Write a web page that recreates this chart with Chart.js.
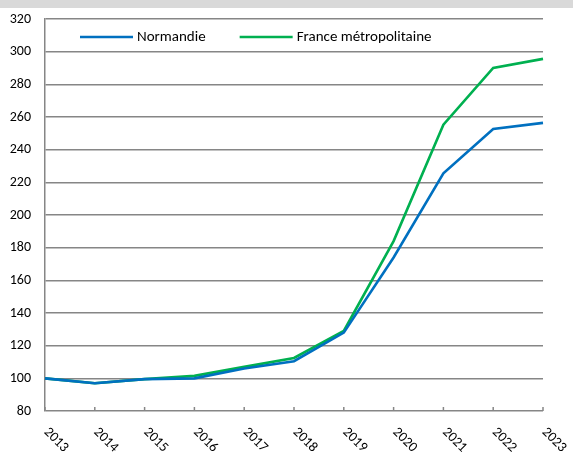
<!DOCTYPE html>
<html>
<head>
<meta charset="utf-8">
<script src="https://cdn.jsdelivr.net/npm/chart.js@4/dist/chart.umd.min.js"></script>
<style>
  html, body { margin: 0; padding: 0; background: #ffffff; }
  #wrap { position: relative; width: 573px; height: 456px; }
  #band { position: absolute; left: 0; top: 0; width: 573px; height: 8px; background: #d9d9d9; }
  canvas { position: absolute; left: 0; top: 0; }
</style>
</head>
<body>
<div id="wrap">
  <div id="band"></div>
  <canvas id="c" width="573" height="456"></canvas>
</div>
<script>
const years = ["2013","2014","2015","2016","2017","2018","2019","2020","2021","2022","2023"];
const normandie = [100, 97, 99.5, 100, 106, 110.5, 128, 174, 225.5, 252.7, 256.4];
const franceMetro = [100, 97, 99.5, 101.5, 107, 112.5, 129, 184, 255.3, 290, 295.6];
const seriesNames = ["Normandie", "France métropolitaine"];
const yTicks = { min: 80, max: 320, step: 20 };

const FONT = "Carlito, Calibri, Lato, 'Open Sans', sans-serif";
const GRID = '#868686';

const customPlugin = {
  id: 'custom',
  afterDraw(chart) {
    const ctx = chart.ctx;
    const xs = chart.scales.x;
    const area = chart.chartArea;
    const bottom = area.bottom;
    ctx.save();
    // inner tick marks on the category axis
    ctx.strokeStyle = GRID;
    ctx.lineWidth = 1.5;
    years.forEach((y, i) => {
      const px = xs.getPixelForValue(i);
      ctx.beginPath();
      ctx.moveTo(px, bottom);
      ctx.lineTo(px, bottom - 4);
      ctx.stroke();
    });
    // rotated category labels (clockwise)
    ctx.fillStyle = '#000000';
    ctx.font = '14px ' + FONT;
    ctx.textAlign = 'left';
    ctx.textBaseline = 'middle';
    years.forEach((y, i) => {
      const px = xs.getPixelForValue(i);
      ctx.save();
      ctx.translate(px + 1, bottom + 19);
      ctx.rotate(Math.PI / 4);
      ctx.fillText(y, 0, 0);
      ctx.restore();
    });
    // legend inside the plot area
    ctx.font = '15px ' + FONT;
    let lx = area.left + 35;
    const ly = area.top + 18;
    chart.data.datasets.forEach((ds) => {
      ctx.strokeStyle = ds.borderColor;
      ctx.lineWidth = 2.6;
      ctx.beginPath();
      ctx.moveTo(lx, ly);
      ctx.lineTo(lx + 53, ly);
      ctx.stroke();
      ctx.fillStyle = '#000000';
      ctx.textBaseline = 'middle';
      ctx.fillText(ds.label, lx + 57, ly);
      lx += 57 + ctx.measureText(ds.label).width + 34;
    });
    ctx.restore();
  }
};

new Chart(document.getElementById('c'), {
  type: 'line',
  data: {
    labels: years,
    datasets: [
      { label: seriesNames[0], data: normandie, borderColor: '#0070c0', backgroundColor: '#0070c0', borderWidth: 2.6, pointRadius: 0, tension: 0 },
      { label: seriesNames[1], data: franceMetro, borderColor: '#00b050', backgroundColor: '#00b050', borderWidth: 2.6, pointRadius: 0, tension: 0 }
    ]
  },
  options: {
    responsive: false,
    animation: false,
    events: [],
    layout: { padding: { top: 19, right: 30, left: 0, bottom: 0 } },
    plugins: {
      legend: { display: false },
      tooltip: { enabled: false }
    },
    scales: {
      x: {
        type: 'category',
        offset: false,
        grid: { display: false, drawOnChartArea: false, drawTicks: false },
        border: { display: false },
        ticks: { display: true, color: 'rgba(0,0,0,0)', maxRotation: 0, minRotation: 0, autoSkip: false, font: { family: FONT, size: 13 } },
        afterFit(scale) { scale.height = 45; scale.paddingLeft = 0; scale.paddingRight = 0; }
      },
      y: {
        min: yTicks.min,
        max: yTicks.max,
        grid: { color: GRID, lineWidth: 1.5, drawTicks: false },
        border: { display: true, color: GRID, width: 1.5 },
        ticks: { stepSize: yTicks.step, padding: 14, color: '#000000', font: { family: FONT, size: 14 } },
        afterFit(scale) { scale.width = 45; scale.paddingTop = 0; scale.paddingBottom = 0; }
      }
    }
  },
  plugins: [customPlugin]
});
</script>
</body>
</html>
